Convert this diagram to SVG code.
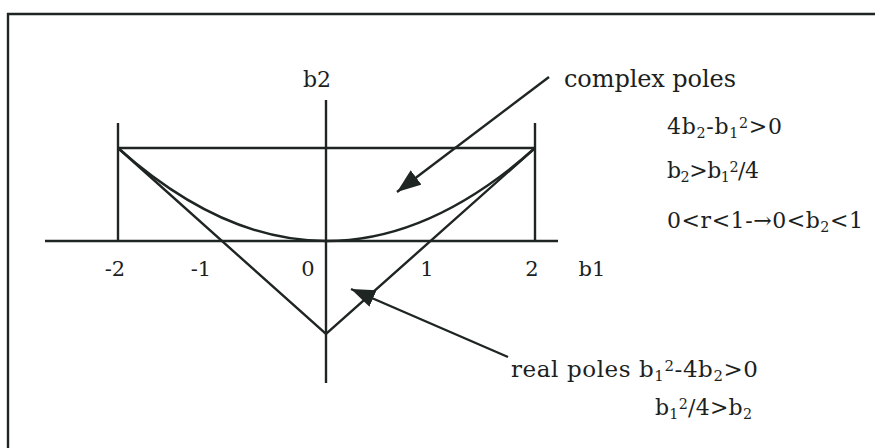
<svg xmlns="http://www.w3.org/2000/svg" width="875" height="448" viewBox="0 0 875 448">
<style>
.ln{fill:none;stroke:#1f2523;stroke-width:2.4;stroke-linecap:butt;stroke-linejoin:miter}
.t{font-family:"DejaVu Serif","Liberation Serif",serif;fill:#1c1f1e}
.sub{font-size:65%}
</style>
<defs>
<marker id="ah" markerUnits="userSpaceOnUse" markerWidth="28" markerHeight="22" refX="24" refY="9" orient="auto">
<path d="M0,0 L24,9 L0,18 Z" fill="#1f2523"/>
</marker>
</defs>
<rect width="875" height="448" fill="#ffffff"/>
<g id="frame"><path class="ln" d="M8,448 V14 H875"/></g>
<g id="axes">
<line class="ln" x1="45" y1="241" x2="558" y2="241"/>
<line class="ln" x1="326" y1="100" x2="326" y2="383"/>
<text class="t" x="317" y="87" font-size="22" text-anchor="middle">b2</text>
<text class="t" x="592" y="276" font-size="21" text-anchor="middle">b1</text>
<text class="t" x="115" y="276" font-size="21" text-anchor="middle">-2</text>
<text class="t" x="201" y="276" font-size="21" text-anchor="middle">-1</text>
<text class="t" x="308" y="276" font-size="21" text-anchor="middle">0</text>
<text class="t" x="427" y="276" font-size="21" text-anchor="middle">1</text>
<text class="t" x="532" y="276" font-size="21" text-anchor="middle">2</text>
</g>
<g id="triangle">
<line class="ln" x1="118" y1="123" x2="118" y2="241"/>
<line class="ln" x1="535" y1="123" x2="535" y2="241"/>
<line class="ln" x1="118" y1="148" x2="535" y2="148"/>
<path class="ln" d="M118,148 L326,334 L535,148"/>
<path class="ln" d="M118,148 Q326,334 535,148"/>
</g>
<g id="connectors">
<line class="ln" x1="549" y1="77" x2="397" y2="192" marker-end="url(#ah)"/>
<line class="ln" x1="508" y1="357" x2="351" y2="289" marker-end="url(#ah)"/>
</g>
<g id="complex-label">
<text class="t" x="564" y="87" font-size="24" textLength="172" lengthAdjust="spacing">complex poles</text>
<text class="t" x="667" y="134" font-size="22" textLength="115" lengthAdjust="spacing">4b<tspan class="sub" dy="4">2</tspan><tspan dy="-4">-b</tspan><tspan class="sub" dy="4">1</tspan><tspan class="sub" dy="-10">2</tspan><tspan dy="6">&gt;0</tspan></text>
<text class="t" x="667" y="178" font-size="22" textLength="92" lengthAdjust="spacing">b<tspan class="sub" dy="4">2</tspan><tspan dy="-4">&gt;b</tspan><tspan class="sub" dy="4">1</tspan><tspan class="sub" dy="-10">2</tspan><tspan dy="6">/4</tspan></text>
<text class="t" x="667" y="228" font-size="22" textLength="196" lengthAdjust="spacing">0&lt;r&lt;1-→0&lt;b<tspan class="sub" dy="4">2</tspan><tspan dy="-4">&lt;1</tspan></text>
</g>
<g id="real-label">
<text class="t" x="511" y="377" font-size="23" textLength="247" lengthAdjust="spacing">real poles b<tspan class="sub" dy="4">1</tspan><tspan class="sub" dy="-10">2</tspan><tspan dy="6">-4b</tspan><tspan class="sub" dy="4">2</tspan><tspan dy="-4">&gt;0</tspan></text>
<text class="t" x="655" y="415" font-size="22" textLength="97" lengthAdjust="spacing">b<tspan class="sub" dy="4">1</tspan><tspan class="sub" dy="-10">2</tspan><tspan dy="6">/4&gt;b</tspan><tspan class="sub" dy="4">2</tspan></text>
</g>
</svg>
